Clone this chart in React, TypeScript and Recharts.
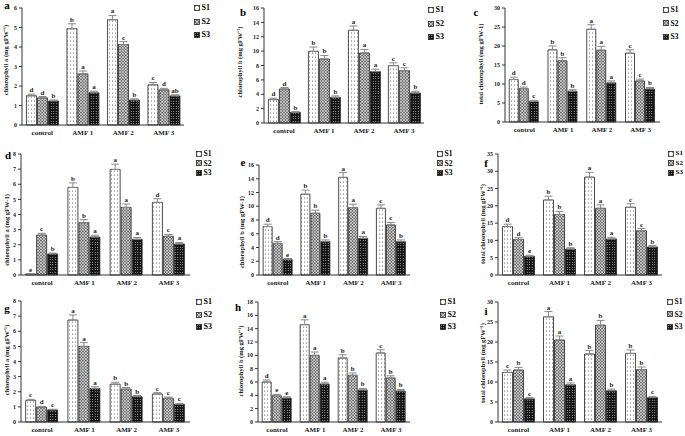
import React from 'react'
import { BarChart, Bar, XAxis, YAxis, ErrorBar, LabelList } from 'recharts'

const categories = ['control', 'AMF 1', 'AMF 2', 'AMF 3']
const seriesNames = ['S1', 'S2', 'S3']

// rows: S1, S2, S3 ; columns: control, AMF 1, AMF 2, AMF 3
const aValues = [[1.5, 4.94, 5.4, 2.06], [1.39, 2.62, 4.13, 1.8], [1.23, 1.65, 1.28, 1.49]]
const aErrors = [[0.08, 0.25, 0.22, 0.12], [0.07, 0.15, 0.15, 0.08], [0.05, 0.08, 0.06, 0.06]]
const aLetters = [['d', 'b', 'a', 'c'], ['d', 'a', 'c', 'd'], ['b', 'a', 'b', 'ab']]
const aTicks = [0, 1, 2, 3, 4, 5, 6]

const bValues = [[3.25, 9.97, 12.9, 7.98], [4.73, 8.9, 9.74, 7.28], [1.48, 3.57, 7.14, 4.17]]
const bErrors = [[0.2, 0.6, 0.6, 0.4], [0.2, 0.5, 0.5, 0.4], [0.1, 0.2, 0.35, 0.25]]
const bLetters = [['d', 'b', 'a', 'c'], ['d', 'b', 'a', 'c'], ['b', 'b', 'a', 'b']]
const bTicks = [0, 2, 4, 6, 8, 10, 12, 14, 16]

const cValues = [[11.2, 19, 24.4, 18.1], [8.8, 16.1, 18.9, 10.8], [5.4, 8.1, 10.3, 8.7]]
const cErrors = [[0.6, 1.0, 1.2, 0.9], [0.4, 0.8, 1.0, 0.5], [0.3, 0.4, 0.5, 0.4]]
const cLetters = [['d', 'b', 'a', 'c'], ['d', 'b', 'a', 'c'], ['c', 'b', 'a', 'b']]
const cTicks = [0, 5, 10, 15, 20, 25, 30]

const dValues = [[0.07, 5.79, 6.98, 4.8], [2.64, 3.46, 4.47, 2.56], [1.39, 2.51, 2.36, 2.05]]
const dErrors = [[0.02, 0.3, 0.35, 0.24], [0.12, 0.2, 0.22, 0.12], [0.06, 0.12, 0.12, 0.1]]
const dLetters = [['e', 'b', 'a', 'd'], ['c', 'b', 'a', 'c'], ['b', 'a', 'a', 'a']]
const dTicks = [0, 1, 2, 3, 4, 5, 6, 7, 8]

const eValues = [[7.04, 11.75, 14.2, 9.7], [4.6, 8.98, 9.8, 7.28], [2.28, 4.85, 5.34, 4.85]]
const eErrors = [[0.35, 0.6, 0.7, 0.5], [0.25, 0.45, 0.5, 0.36], [0.12, 0.25, 0.27, 0.25]]
const eLetters = [['d', 'b', 'a', 'c'], ['d', 'b', 'a', 'c'], ['e', 'b', 'a', 'b']]
const eTicks = [0, 2, 4, 6, 8, 10, 12, 14, 16]

const fValues = [[14, 21.7, 28.3, 19.6], [10.3, 17.5, 19.3, 12.8], [5.4, 7.5, 10.4, 8.1]]
const fErrors = [[0.7, 1.1, 1.4, 1.0], [0.5, 0.9, 0.97, 0.65], [0.3, 0.4, 0.5, 0.4]]
const fLetters = [['d', 'b', 'a', 'c'], ['d', 'b', 'a', 'c'], ['e', 'b', 'a', 'b']]
const fTicks = [0, 5, 10, 15, 20, 25, 30, 35]

const gValues = [[1.43, 6.74, 2.5, 1.85], [0.98, 5.0, 2.17, 1.57], [0.8, 2.22, 1.67, 1.17]]
const gErrors = [[0.07, 0.34, 0.13, 0.09], [0.05, 0.25, 0.11, 0.08], [0.04, 0.11, 0.08, 0.06]]
const gLetters = [['c', 'a', 'b', 'c'], ['d', 'a', 'b', 'c'], ['c', 'a', 'b', 'c']]
const gTicks = [0, 1, 2, 3, 4, 5, 6, 7, 8]

const hValues = [[6.0, 14.6, 9.6, 10.35], [3.95, 10, 7.0, 6.6], [3.6, 5.7, 4.8, 4.65]]
const hErrors = [[0.3, 0.73, 0.48, 0.5], [0.2, 0.5, 0.35, 0.33], [0.18, 0.28, 0.24, 0.23]]
const hLetters = [['d', 'a', 'b', 'c'], ['e', 'a', 'b', 'b'], ['e', 'a', 'b', 'b']]
const hTicks = [0, 2, 4, 6, 8, 10, 12, 14, 16, 18]

const iValues = [[12.4, 26.3, 17, 17.15], [13, 20.5, 24.2, 13.1], [5.8, 9.3, 7.8, 6.1]]
const iErrors = [[0.6, 1.3, 0.85, 0.86], [0.65, 1.0, 1.2, 0.65], [0.3, 0.46, 0.4, 0.3]]
const iLetters = [['c', 'a', 'b', 'b'], ['b', 'a', 'b', 'b'], ['c', 'a', 'b', 'c']]
const iTicks = [0, 5, 10, 15, 20, 25, 30]

const FONT = '"Liberation Serif", "Times New Roman", serif'

type PanelProps = {
  tag: string
  yLabel: string
  values: number[][]
  errors: number[][]
  letters: string[][]
  ticks: number[]
  l: number; r: number; t: number; b: number
  tagPos: [number, number]
  labelPos: [number, number]
  legend: [number, number, number, number] // x, first row y, row step, font size
}

function Patterns({ tag }: { tag: string }) {
  return (
    <defs>
      <pattern id={`${tag}-S1`} patternUnits="userSpaceOnUse" width="3" height="4">
        <rect width="3" height="4" fill="#fff" />
        <circle cx="1.5" cy="1" r="0.5" fill="#333" />
      </pattern>
      <pattern id={`${tag}-S2`} patternUnits="userSpaceOnUse" width="3" height="3">
        <rect width="3" height="3" fill="#777" />
        <path d="M0,0 L3,3 M3,0 L0,3" stroke="#e6e6e6" strokeWidth="0.6" />
      </pattern>
      <pattern id={`${tag}-S3`} patternUnits="userSpaceOnUse" width="2.5" height="2.5">
        <rect width="2.5" height="2.5" fill="#111" />
        <circle cx="1.25" cy="1.25" r="0.5" fill="#fff" />
      </pattern>
    </defs>
  )
}

function Panel(p: PanelProps) {
  const x0 = p.l - 22
  const y0 = p.t - 8
  const w = p.r - x0 + 2
  const h = p.b - y0 + 14
  const yMax = p.ticks[p.ticks.length - 1]
  const pxPerUnit = (p.b - p.t) / yMax
  const rows = categories.map((name, i) => ({
    name,
    S1: p.values[0][i], S2: p.values[1][i], S3: p.values[2][i],
    e1: [0, p.errors[0][i]], e2: [0, p.errors[1][i]], e3: [0, p.errors[2][i]],
    l1: p.letters[0][i], l2: p.letters[1][i], l3: p.letters[2][i],
  }))

  const letterContent = (s: number) => (props: any) => {
    const { x, y, width, value, index } = props
    const err = (p.errors[s][index] ?? 0) * pxPerUnit
    return (
      <text x={x + width / 2} y={y - err - 2} textAnchor="middle" fontSize={7}
        fontWeight="bold" fontFamily={FONT} fill="#222" stroke="none">{value}</text>
    )
  }

  return (
    <>
      <div style={{ position: 'absolute', left: x0, top: y0 }}>
        <BarChart width={w} height={h} data={rows} barCategoryGap="11%" barGap={1}
          margin={{ top: 8, right: 2, left: 0, bottom: 0 }}>
          <Patterns tag={p.tag} />
          <XAxis dataKey="name" tickLine={false} tickSize={3} tickMargin={2} height={14} interval={0}
            axisLine={{ stroke: '#333' }}
            tick={{ fontSize: 7, fontWeight: 'bold', fill: '#222', fontFamily: FONT }} />
          <YAxis width={22} domain={[0, yMax]} ticks={p.ticks} interval={0} tickSize={3}
            axisLine={{ stroke: '#333' }} tickLine={{ stroke: '#333' }}
            tick={{ fontSize: 6, fontWeight: 'bold', fill: '#222', fontFamily: FONT }} />
          {seriesNames.map((s, k) => (
            <Bar key={s} dataKey={s} fill={`url(#${p.tag}-${s})`} stroke="#222" strokeWidth={0.8}
              isAnimationActive={false}>
              <ErrorBar dataKey={`e${k + 1}`} width={4} stroke="#888" strokeWidth={1} />
              <LabelList dataKey={`l${k + 1}`} content={letterContent(k)} />
            </Bar>
          ))}
        </BarChart>
      </div>
      <div style={{
        position: 'absolute', left: p.tagPos[0], top: p.tagPos[1], transform: 'translate(-50%,-50%)',
        fontFamily: FONT, fontWeight: 'bold', fontSize: 11, lineHeight: 1,
      }}>{p.tag}</div>
      <div style={{
        position: 'absolute', left: p.labelPos[0], top: p.labelPos[1],
        transform: 'translate(-50%,-50%) rotate(-90deg)', whiteSpace: 'nowrap',
        fontFamily: FONT, fontWeight: 'bold', fontSize: 6.5, lineHeight: 1, color: '#222',
      }}>{p.yLabel}</div>
      {seriesNames.map((s, k) => (
        <div key={s} style={{
          position: 'absolute', left: p.legend[0], top: p.legend[1] + k * p.legend[2] - 4,
          display: 'flex', alignItems: 'center', gap: 1.5,
          fontFamily: FONT, fontWeight: 'bold', fontSize: p.legend[3], lineHeight: 1,
        }}>
          <svg width={6} height={6} style={{ display: 'block' }}>
            <rect x={0.5} y={0.5} width={5} height={5} fill={`url(#${p.tag}-${s})`} stroke="#222" strokeWidth={0.8} />
          </svg>
          <span>{s}</span>
        </div>
      ))}
    </>
  )
}

export default function App() {
  return (
    <div style={{ position: 'absolute', left: 0, top: 0, width: 685, height: 436, overflow: 'hidden', background: '#fff' }}>
      <Panel tag="a" yLabel="chlorophyll a  (mg gFW⁻¹)" values={aValues} errors={aErrors} letters={aLetters} ticks={aTicks}
        l={22} r={184} t={8} b={125} tagPos={[7, 5]} labelPos={[6, 60]} legend={[194, 8, 13.5, 8]} />
      <Panel tag="b" yLabel="chlorophyll b  (mg gFW⁻¹)" values={bValues} errors={bErrors} letters={bLetters} ticks={bTicks}
        l={264} r={424} t={8} b={123} tagPos={[243, 12]} labelPos={[240, 62]} legend={[428, 10, 13.5, 8]} />
      <Panel tag="c" yLabel="total chlorophyll (mg gFW-1)" values={cValues} errors={cErrors} letters={cLetters} ticks={cTicks}
        l={505} r={660} t={8} b={122} tagPos={[476, 12]} labelPos={[481, 64]} legend={[663, 10, 13.5, 7.5]} />
      <Panel tag="d" yLabel="chlorophyll a (mg gFW-1)" values={dValues} errors={dErrors} letters={dLetters} ticks={dTicks}
        l={21} r={190} t={154} b={275} tagPos={[8, 155]} labelPos={[7, 230]} legend={[196, 154, 9.5, 7.5]} />
      <Panel tag="e" yLabel="chlorophyll b (mg gFW-1)" values={eValues} errors={eErrors} letters={eLetters} ticks={eTicks}
        l={259} r={410} t={165} b={275} tagPos={[243, 162]} labelPos={[242, 232]} legend={[437, 154, 9.5, 7.5]} />
      <Panel tag="f" yLabel="total chlorophyll (mg gFW⁻¹)" values={fValues} errors={fErrors} letters={fLetters} ticks={fTicks}
        l={498} r={662} t={154} b={275} tagPos={[486, 163]} labelPos={[483, 224]} legend={[668, 154, 9.5, 7]} />
      <Panel tag="g" yLabel="chlorophyll a (mg gFW⁻¹)" values={gValues} errors={gErrors} letters={gLetters} ticks={gTicks}
        l={21} r={190} t={301} b={422} tagPos={[7, 308]} labelPos={[7, 360]} legend={[196, 302, 12.5, 8]} />
      <Panel tag="h" yLabel="chlorophyll b (mg gFW⁻¹)" values={hValues} errors={hErrors} letters={hLetters} ticks={hTicks}
        l={258} r={410} t={302} b={422} tagPos={[238, 307]} labelPos={[241, 361]} legend={[440, 302, 12.5, 8]} />
      <Panel tag="i" yLabel="total chlorophyll (mg gFW⁻¹)" values={iValues} errors={iErrors} letters={iLetters} ticks={iTicks}
        l={498} r={662} t={302} b={422} tagPos={[486, 311]} labelPos={[483, 363]} legend={[667, 302, 12.5, 7.5]} />
    </div>
  )
}
